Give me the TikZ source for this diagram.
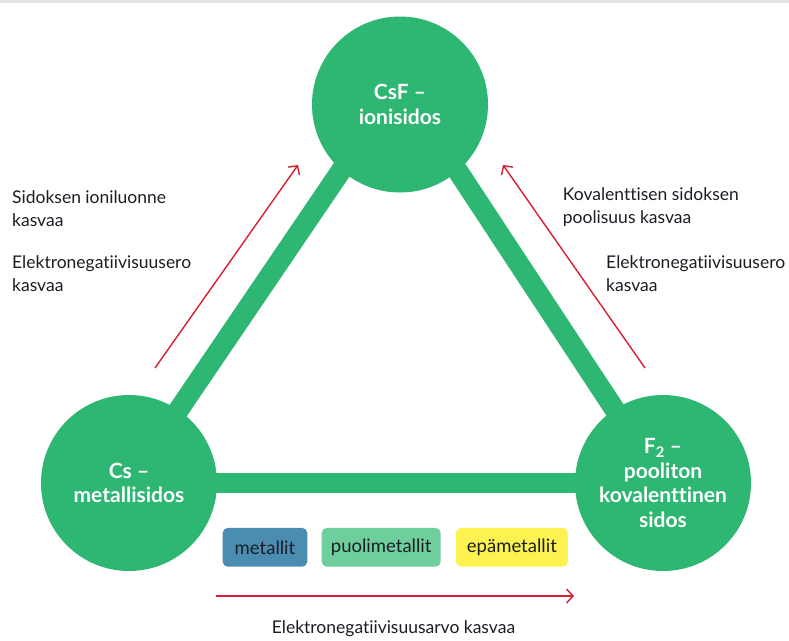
\documentclass[tikz,border=0pt]{standalone}
\usepackage{fontspec}
\setmainfont{Lato}[Ligatures={NoCommon}]
\usetikzlibrary{arrows.meta,backgrounds}
\definecolor{cgreen}{RGB}{46,182,115}
\definecolor{cred}{RGB}{212,32,48}
\definecolor{cblue}{RGB}{74,141,176}
\definecolor{cmint}{RGB}{110,206,156}
\definecolor{cyellow}{RGB}{253,242,80}
\definecolor{ctext}{RGB}{26,30,36}
\definecolor{cband}{RGB}{226,226,226}
\tikzset{
  bond/.style={circle,fill=cgreen,minimum size=176pt,inner sep=0pt,align=center,
    text=white,font=\bfseries\fontsize{21}{24.5}\selectfont},
  bar/.style={draw=cgreen,line width=20.5pt},
  redarrow/.style={draw=cred,line width=1.4pt,-{Straight Barb[length=6.5pt,width=14pt,line width=1.4pt]}},
  lbl/.style={anchor=base west,inner sep=0pt,text=ctext,font=\fontsize{17.5}{24}\selectfont},
  legend/.style={rounded corners=5pt,minimum height=38.7pt,inner sep=0pt,text=ctext,
    font=\fontsize{18.5}{20}\selectfont}
}
\begin{document}
\begin{tikzpicture}[x=1pt,y=-1pt]
\useasboundingbox (0,0) rectangle (789,640);

% circles
\node[bond] (T) at (400,104.5) {CsF --\\ionisidos};
\node[bond] (L) at (129,483) {Cs --\\metallisidos};
\node[bond] (R) at (663,483) {F\textsubscript{2} --\\pooliton\\kovalenttinen\\sidos};
\coordinate (TL) at (386,104.5);
\coordinate (TR) at (414,104.5);

\begin{pgfonlayer}{background}
\fill[white] (0,0) rectangle (789,640);
\fill[cband] (0,0) rectangle (789,3);
\draw[bar] (L.center) -- (TL);
\draw[bar] (R.center) -- (TR);
\draw[bar] (L.center) -- (R.center);
\end{pgfonlayer}

% red arrows
\coordinate (a1s) at (155,368);
\coordinate (a1e) at (298,165);
\coordinate (a2s) at (645,368);
\coordinate (a2e) at (503,165);
\coordinate (a3s) at (216,596);
\coordinate (a3e) at (574,596);
\draw[redarrow] (a1s) -- (a1e);
\draw[redarrow] (a2s) -- (a2e);
\draw[redarrow] (a3s) -- (a3e);

% left labels
\node[lbl] (l1) at (12,203) {Sidoksen ioniluonne};
\node[lbl] (l2) at (12,226.7) {kasvaa};
\node[lbl] (l3) at (12,268.3) {Elektronegatiivisuusero};
\node[lbl] (l4) at (12,291.7) {kasvaa};

% right labels
\node[lbl] (r1) at (562.7,200) {Kovalenttisen sidoksen};
\node[lbl] (r2) at (562.7,223.3) {poolisuus kasvaa};
\node[lbl] (r3) at (606,268.3) {Elektronegatiivisuusero};
\node[lbl] (r4) at (606,291.7) {kasvaa};

% legend
\node[legend,fill=cblue,minimum width=84.6pt] (m) at (265,547.3) {metallit};
\node[legend,fill=cmint,minimum width=119pt] (p) at (381.2,547.3) {puolimetallit};
\node[legend,fill=cyellow,minimum width=111.7pt] (e) at (511.9,547.3) {epämetallit};

% bottom label
\node[anchor=base,inner sep=0pt,text=ctext,font=\fontsize{17.5}{20}\selectfont] (b) at (393.5,633) {Elektronegatiivisuusarvo kasvaa};
\end{tikzpicture}
\end{document}
